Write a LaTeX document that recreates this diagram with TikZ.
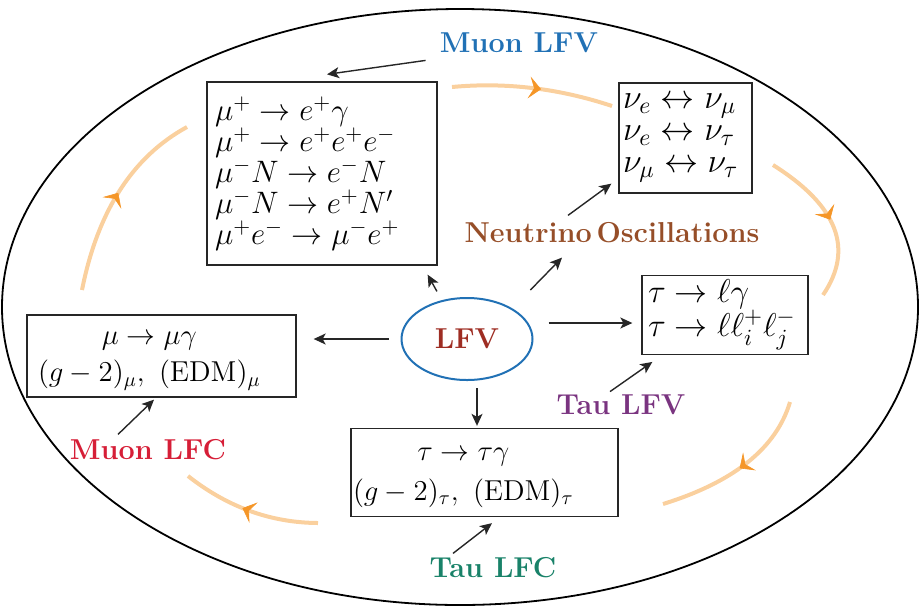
\documentclass[tikz,border=0pt]{standalone}
\usepackage{fix-cm}
\usepackage{amsmath,amssymb}
\usepackage{xcolor}
\usepackage{tikz}
\usetikzlibrary{arrows.meta, positioning, calc, decorations.markings, shapes.geometric}

\definecolor{muonblue}{RGB}{33,113,181}
\definecolor{lfvred}{RGB}{158,45,35}
\definecolor{nubrown}{RGB}{150,78,40}
\definecolor{taupurple}{RGB}{122,52,128}
\definecolor{muonred}{RGB}{214,30,55}
\definecolor{taugreen}{RGB}{25,130,105}
\definecolor{arcorange}{RGB}{245,150,40}

\begin{document}
\begin{tikzpicture}[x=0.5pt, y=-0.5pt,
  box/.style={draw=black!85, line width=0.65pt, inner ysep=2pt, align=left},
  tag/.style={font=\Large\bfseries, inner sep=0pt},
  arrow/.style={-{Stealth[length=6pt, width=5.5pt, inset=1.5pt]}, line width=0.7pt, draw=black!85},
  cyclearc/.style={draw=arcorange!45, line width=2pt, postaction={decorate},
    decoration={markings, mark=at position #1 with {\arrow{Stealth[length=6pt, width=11pt, inset=2.5pt, color=arcorange, line width=0.3pt]}}}}
]
  \useasboundingbox (0,0) rectangle (919,606);

  % frame
  \draw[line width=0.9pt] (460,307) ellipse [x radius=229pt, y radius=149pt];

  % cycle arcs
  \draw[cyclearc=0.55] (452,87) .. controls (505.3,82) and (558.7,88.3) .. (612,106);
  \draw[cyclearc=0.5] (773,165) .. controls (837.7,205.7) and (854.3,249) .. (823,295);
  \draw[cyclearc=0.5] (790,402) .. controls (776.3,448) and (734,482) .. (663,504);
  \draw[cyclearc=0.55] (318,523) .. controls (270.7,522.7) and (227.3,507) .. (188,476);
  \draw[cyclearc=0.52] (82,290) .. controls (97.7,211) and (132.7,156.7) .. (187,127);

  % centre
  \node[draw=muonblue, line width=1pt, ellipse, minimum width=65.5pt, minimum height=41pt,
        inner sep=0pt, text=lfvred, font=\Large\bfseries] (lfv) at (467,339) {LFV};

  % boxes
  \node[box, inner xsep=4pt, text width=107pt, minimum height=91.5pt,
        font=\fontsize{15.5}{15.5}\selectfont] (mlfv) at (322,173.5)
    {$\mu^+ \to e^+\gamma$\\ $\mu^+ \to e^+e^+e^-$\\ $\mu^- N \to e^- N$\\ $\mu^- N \to e^+ N'$\\ $\mu^+ e^- \to \mu^- e^+$};
  \node[box, inner xsep=2pt, text width=62.5pt, minimum height=55pt,
        font=\fontsize{17}{16}\selectfont] (nuosc) at (685.5,138)
    {$\nu_e \leftrightarrow \nu_\mu$\\ $\nu_e \leftrightarrow \nu_\tau$\\ $\nu_\mu \leftrightarrow \nu_\tau$};
  \node[box, inner xsep=3pt, text width=77pt, minimum height=39pt,
        font=\fontsize{16.5}{17}\selectfont] (tlfv) at (725,315)
    {$\tau \to \ell\gamma$\\ $\tau \to \ell\ell_i^+\ell_j^-$};
  \node[box, inner xsep=5.5pt, text width=123.5pt, minimum height=39pt,
        font=\fontsize{14.4}{18.5}\selectfont] (mlfc) at (161.5,356)
    {\begin{tabular}{@{}c@{}}$\mu \to \mu\gamma$\\ $(g-2)_\mu,\ (\mathrm{EDM})_\mu$\end{tabular}};
  \node[box, inner xsep=1pt, text width=131.5pt, minimum height=38.5pt,
        font=\fontsize{14.4}{20}\selectfont] (tlfc) at (484.5,472.5)
    {\begin{tabular}{@{}c@{}}$\tau \to \tau\gamma$\\ $(g-2)_\tau,\ (\mathrm{EDM})_\tau$\end{tabular}};

  % labels
  \node[tag, text=muonblue] (mlfvlab) at (519,43) {Muon LFV};
  \node[tag, text=nubrown] (nulab) at (612,233) {Neutrino\,Oscillations};
  \node[tag, text=taupurple] (tlfvlab) at (621,405) {Tau LFV};
  \node[tag, text=muonred] (mlfclab) at (148,450) {Muon LFC};
  \node[tag, text=taugreen] (tlfclab) at (493,568) {Tau LFC};

  % from LFV
  \draw[arrow, shorten <=5pt] (lfv.123) -- ([xshift=-5pt,yshift=-4.5pt]mlfv.south east);
  \draw[arrow, shorten <=12.8pt] (lfv.34) -- ([xshift=-25pt,yshift=-7pt]nulab.south);
  \draw[arrow, shorten <=6pt, shorten >=8.5pt] (lfv.west) -- (lfv.west -| mlfc.east);
  \draw[arrow, shorten <=7.5pt, shorten >=4.5pt] ([yshift=8pt]lfv.east) -- ([yshift=8pt]lfv.east -| tlfv.west);
  \draw[arrow, shorten <=3.5pt, shorten >=1pt] ([xshift=5pt]lfv.south) -- ([xshift=5pt]lfv.south |- tlfc.north);

  % labels to boxes
  \draw[arrow] ([xshift=-7pt,yshift=-3.5pt]mlfvlab.south west) -- ([xshift=2.5pt,yshift=3.5pt]mlfv.north);
  \draw[arrow] ([xshift=-22pt,yshift=3.5pt]nulab.north) -- ([xshift=-3.5pt,yshift=5pt]nuosc.south west);
  \draw[arrow] ([xshift=-5.5pt,yshift=1.5pt]tlfvlab.north) -- ([xshift=5.5pt,yshift=-3.5pt]tlfv.south west);
  \draw[arrow] ([xshift=-15pt,yshift=2.5pt]mlfclab.north) -- ([xshift=-3.75pt,yshift=-1pt]mlfc.south);
  \draw[arrow] ([xshift=-20pt,yshift=2pt]tlfclab.north) -- ([xshift=3.75pt,yshift=-3pt]tlfc.south);
\end{tikzpicture}
\end{document}
